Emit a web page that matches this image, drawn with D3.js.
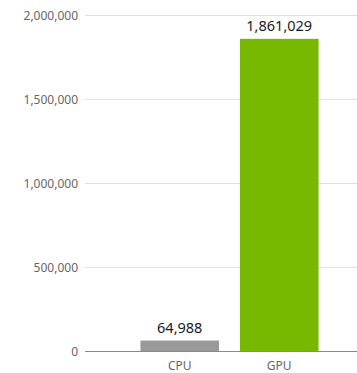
<!DOCTYPE html>
<html><head><meta charset="utf-8">
<script src="https://cdn.jsdelivr.net/npm/d3@7"></script>
<style>body{margin:0;background:#fff}svg{display:block}</style>
</head><body>
<script>
const categories = ["CPU", "GPU"];
const values = [64988, 1861029];
const colors = ["#999999", "#76b900"];
const yTicks = [0, 500000, 1000000, 1500000, 2000000];

const W = 357, H = 373;
const svg = d3.select("body").append("svg").attr("width", W).attr("height", H);
const font = "'Noto Sans', sans-serif";

const y = d3.scaleLinear().domain([0, 2000000]).range([351.5, 15.5]);
const x = d3.scaleBand().domain(categories).range([130, 329]).paddingInner(0.21).paddingOuter(0.105);

// gridlines
svg.append("g").selectAll("line").data(yTicks.filter(d => d > 0)).join("line")
  .attr("x1", 85).attr("x2", W).attr("y1", d => y(d)).attr("y2", d => y(d))
  .attr("stroke", "#e0e0e0").attr("stroke-width", 1);

// y labels
const fmt = d3.format(",");
svg.append("g").selectAll("text").data(yTicks).join("text")
  .attr("x", 78).attr("y", d => y(d)).attr("dy", "0.35em")
  .attr("text-anchor", "end").attr("font-family", font).attr("font-size", 12)
  .attr("fill", "#666").text(d => fmt(d));

// bars
svg.append("g").selectAll("rect").data(values).join("rect")
  .attr("x", (d, i) => x(categories[i])).attr("width", x.bandwidth())
  .attr("y", d => y(d)).attr("height", d => y(0) - y(d))
  .attr("fill", (d, i) => colors[i]);

// baseline
svg.append("line").attr("x1", 85).attr("x2", W).attr("y1", y(0)).attr("y2", y(0))
  .attr("stroke", "#888").attr("stroke-width", 1);

// value labels
svg.append("g").selectAll("text").data(values).join("text")
  .attr("x", (d, i) => x(categories[i]) + x.bandwidth() / 2).attr("y", d => y(d) - 8)
  .attr("text-anchor", "middle").attr("font-family", font).attr("font-size", 14.5)
  .attr("fill", "#1a1a1a").text(d => fmt(d));

// x labels
svg.append("g").selectAll("text").data(categories).join("text")
  .attr("x", d => x(d) + x.bandwidth() / 2).attr("y", 369.5)
  .attr("text-anchor", "middle").attr("font-family", font).attr("font-size", 12)
  .attr("fill", "#666").text(d => d);
</script>
</body></html>
